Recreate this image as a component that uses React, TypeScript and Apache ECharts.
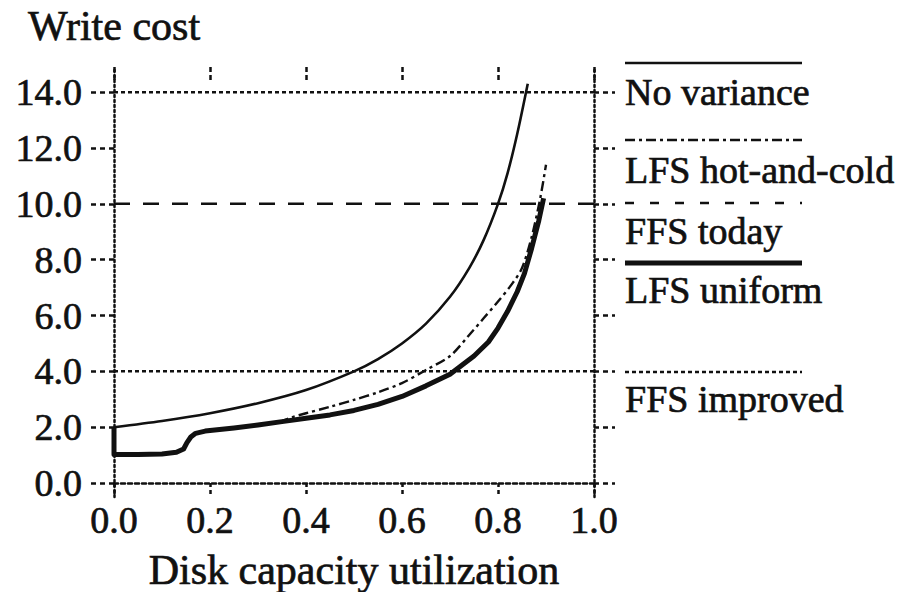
import React, { useEffect, useRef } from "react";
import * as echarts from "echarts";

// Disk capacity utilization (x) vs write cost (y)
const noVariance: [number, number][] = [
  [0, 2.0], [0.1, 2.22], [0.2, 2.5], [0.3, 2.86], [0.4, 3.33], [0.5, 4.0],
  [0.55, 4.44], [0.6, 5.0], [0.65, 5.71], [0.7, 6.67], [0.74, 7.7], [0.77, 8.7],
  [0.8, 10.0], [0.82, 11.1], [0.84, 12.5], [0.862, 14.3],
];

const lfsUniform: [number, number][] = [
  [0, 2.0], [0, 1.02], [0.05, 1.02], [0.1, 1.04], [0.13, 1.1], [0.145, 1.22],
  [0.152, 1.45], [0.16, 1.65], [0.17, 1.78], [0.19, 1.86], [0.25, 1.97],
  [0.3, 2.08], [0.35, 2.2], [0.4, 2.32], [0.45, 2.44], [0.5, 2.6], [0.55, 2.82],
  [0.6, 3.1], [0.65, 3.48], [0.7, 3.9], [0.75, 4.55], [0.78, 5.05], [0.8, 5.55],
  [0.82, 6.15], [0.84, 6.85], [0.855, 7.5], [0.87, 8.4], [0.885, 9.4], [0.895, 10.2],
];

const lfsHotCold: [number, number][] = [
  [0.3, 2.08], [0.35, 2.22], [0.37, 2.35], [0.4, 2.5], [0.45, 2.73], [0.5, 2.98],
  [0.55, 3.25], [0.6, 3.58], [0.65, 4.05], [0.7, 4.55], [0.74, 5.3], [0.77, 5.9],
  [0.8, 6.5], [0.83, 7.15], [0.85, 7.7], [0.87, 8.8], [0.888, 10.2], [0.9, 11.4],
];

const ffsToday: [number, number][] = [[0, 10], [1, 10]];
const ffsImproved: [number, number][] = [[0, 4], [1, 4]];
const topGrid: [number, number][] = [[0, 14], [1, 14]];

const yTicks = [0, 2, 4, 6, 8, 10, 12, 14];
const legendNames = ["No variance", "LFS hot-and-cold", "FFS today", "LFS uniform", "FFS improved"];

const INK = "#111";
const FONT = "'Liberation Serif', 'Times New Roman', serif";
const FS = 38;
const BOLD = { textBorderColor: INK, textBorderWidth: 0.7 };

export default function App() {
  const ref = useRef<HTMLDivElement>(null);
  useEffect(() => {
    if (!ref.current) return;
    const chart = echarts.init(ref.current, null, { renderer: "svg" });
    const txt = (text: string, x: number, y: number, size = FS) => ({
      type: "text",
      x,
      y,
      style: { text, fill: INK, font: `${size}px ${FONT}`, verticalAlign: "middle", stroke: INK, lineWidth: 0.7 },
    });
    const lg = (y: number, lineDash: any, width: number) => ({
      type: "line",
      shape: { x1: 625, y1: y, x2: 802, y2: y },
      style: { stroke: INK, lineWidth: width, lineDash },
    });
    chart.setOption({
      animation: false,
      backgroundColor: "#fff",
      textStyle: { fontFamily: FONT, color: INK },
      grid: { left: 114, right: 308, top: 67, bottom: 95, containLabel: false, outerBoundsMode: "none" },
      xAxis: [
        {
          type: "value",
          min: 0,
          max: 1,
          interval: 0.2,
          position: "bottom",
          axisLine: { show: true, onZero: true, lineStyle: { color: INK, width: 2.5, type: [4, 3] } },
          axisTick: { show: true, inside: false, length: 14, lineStyle: { color: INK, width: 2.5, type: [4, 3] } },
          axisLabel: { show: true, margin: 4, fontSize: FS, color: INK, fontFamily: FONT, ...BOLD, formatter: (v: number) => v.toFixed(1) },
          splitLine: { show: false },
          name: "Disk capacity utilization",
          nameLocation: "middle",
          nameGap: 52,
          nameTextStyle: { fontSize: 42, color: INK, fontFamily: FONT, ...BOLD },
        },
        {
          type: "value",
          min: 0,
          max: 1,
          interval: 0.2,
          position: "top",
          axisLine: { show: true, onZero: false, lineStyle: { color: INK, width: 1, opacity: 0 } },
          axisTick: { show: true, inside: true, length: 15, lineStyle: { color: INK, width: 2.5, type: [5, 3] } },
          axisLabel: { show: false },
          splitLine: { show: false },
        },
      ],
      yAxis: [
        {
          type: "value",
          min: -0.5,
          max: 14.9,
          position: "left",
          axisLine: { show: true, onZero: false, lineStyle: { color: INK, width: 2.5, type: [2, 3] } },
          axisTick: { show: true, inside: false, length: 24, customValues: yTicks, lineStyle: { color: INK, width: 2.5, type: [5, 4] } },
          axisLabel: { show: true, margin: 32, customValues: yTicks, fontSize: FS, color: INK, fontFamily: FONT, ...BOLD, formatter: (v: number) => v.toFixed(1) },
          splitLine: { show: false },
        },
        {
          type: "value",
          min: -0.5,
          max: 14.9,
          position: "right",
          axisLine: { show: true, onZero: false, lineStyle: { color: INK, width: 2.5, type: [2, 3] } },
          axisTick: { show: true, inside: false, length: 21, customValues: yTicks, lineStyle: { color: INK, width: 2.5, type: [5, 4] } },
          axisLabel: { show: false },
          splitLine: { show: false },
        },
      ],
      series: [
        {
          name: "grid14", type: "line", data: topGrid, showSymbol: false, silent: true,
          lineStyle: { color: INK, width: 2.5, type: [4, 3] },
        },
        {
          name: legendNames[4], type: "line", data: ffsImproved, showSymbol: false,
          lineStyle: { color: INK, width: 2.5, type: [4, 3] },
        },
        {
          name: legendNames[2], type: "line", data: ffsToday, showSymbol: false,
          lineStyle: { color: INK, width: 2.5, type: [16, 13] },
        },
        {
          name: legendNames[0], type: "line", data: noVariance, showSymbol: false, smooth: 0.3,
          lineStyle: { color: INK, width: 2.6 },
        },
        {
          name: legendNames[3], type: "line", data: lfsUniform, showSymbol: false,
          lineStyle: { color: INK, width: 5, join: "round" },
        },
        {
          name: legendNames[1], type: "line", data: lfsHotCold, showSymbol: false, smooth: 0.3,
          lineStyle: { color: INK, width: 2.4, type: [10, 4, 3, 4] },
        },
      ],
      graphic: [
        txt("Write cost", 28, 26, 42),
        lg(63, null, 2.6),
        txt(legendNames[0], 625, 92),
        lg(140, [10, 4, 3, 4], 2.4),
        txt(legendNames[1], 625, 170),
        lg(203, [9, 16], 2.5),
        txt(legendNames[2], 625, 231),
        lg(263, null, 5),
        txt(legendNames[3], 625, 290),
        lg(372, [4, 3], 2.5),
        txt(legendNames[4], 625, 399),
      ],
    });
    return () => chart.dispose();
  }, []);
  return <div ref={ref} style={{ position: "fixed", left: 0, top: 0, width: 902, height: 592, background: "#fff" }} />;
}
